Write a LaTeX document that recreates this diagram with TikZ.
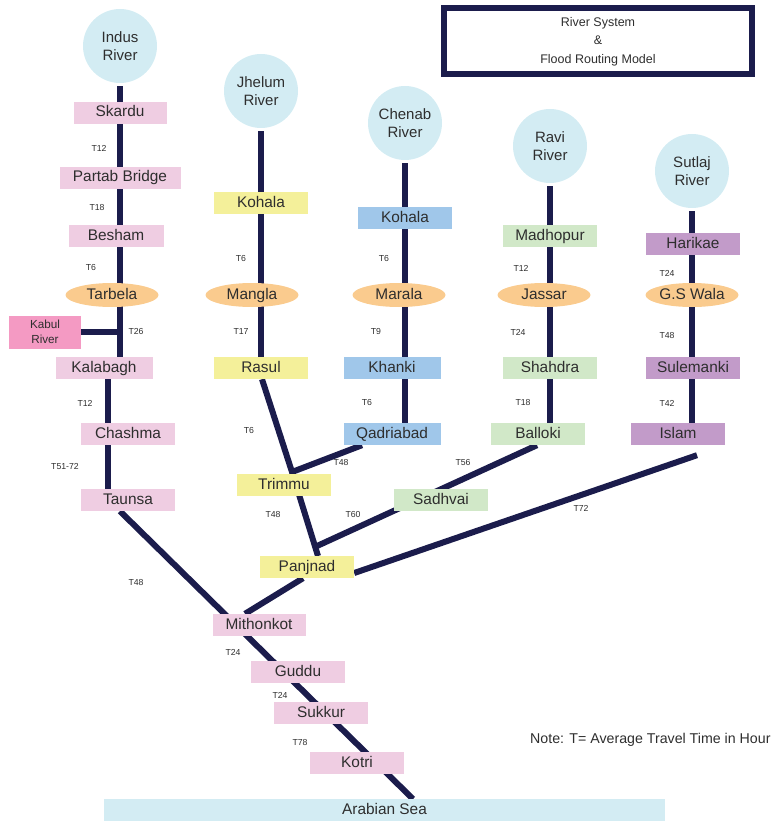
\documentclass[tikz,border=0pt]{standalone}
\usepackage{fontspec}
\setmainfont{Liberation Sans}
\usetikzlibrary{shapes.geometric,backgrounds}
\definecolor{rivercirc}{HTML}{D3ECF3}
\definecolor{indusbox}{HTML}{EFCDE2}
\definecolor{kabulbox}{HTML}{F49AC3}
\definecolor{damfill}{HTML}{FACB8E}
\definecolor{jhelumbox}{HTML}{F4F09A}
\definecolor{chenabbox}{HTML}{A0C7EA}
\definecolor{ravibox}{HTML}{D1E8C8}
\definecolor{sutlajbox}{HTML}{C29BC9}
\definecolor{riverline}{HTML}{1B1C4C}
\definecolor{labeltext}{HTML}{2E2E2E}

\begin{document}
\begin{tikzpicture}[x=1pt,y=-1pt,
  source/.style={circle,fill=rivercirc,minimum size=74pt,inner sep=0pt,align=center,text=labeltext,font=\fontsize{15}{18}\selectfont},
  station/.style={fill=#1,minimum width=94pt,minimum height=22pt,inner sep=0pt,text height=11pt,text depth=3pt,text=labeltext,font=\fontsize{15.4}{18}\selectfont},
  dam/.style={ellipse,fill=damfill,minimum width=93pt,minimum height=24pt,inner sep=0pt,text height=11pt,text depth=3pt,text=labeltext,font=\fontsize{15.4}{18}\selectfont},
  tlabel/.style={inner sep=0pt,text=labeltext,font=\fontsize{8.7}{10}\selectfont},
  river/.style={riverline,line width=6pt}]

\useasboundingbox (0,0) rectangle (771,821);

\node[draw=riverline,line width=6pt,minimum width=308pt,minimum height=66pt,align=center,text=labeltext,font=\fontsize{12.5}{18.5}\selectfont] (title) at (598,41.5) {River System\\\&\\Flood Routing Model};

\node[source] (indus) at (120,46) {Indus\\River};
\node[station=indusbox,minimum width=93pt] (skardu) at (120,113) {Skardu};
\node[station=indusbox,minimum width=121pt] (partab) at (120,178) {Partab Bridge};
\node[station=indusbox,minimum width=95pt] (besham) at (116,236) {Besham};
\node[dam] (tarbela) at (112,295) {Tarbela};
\node[fill=kabulbox,minimum width=72pt,minimum height=33pt,inner sep=0pt,align=center,text=labeltext,font=\fontsize{11.7}{15}\selectfont] (kabul) at (45,332) {Kabul\\River};
\node[station=indusbox,minimum width=97pt] (kalabagh) at (104,368) {Kalabagh};
\node[station=indusbox] (chashma) at (128,434) {Chashma};
\node[station=indusbox] (taunsa) at (128,500) {Taunsa};

\node[source] (jhelum) at (261,91) {Jhelum\\River};
\node[station=jhelumbox] (kohalaj) at (261,203) {Kohala};
\node[dam] (mangla) at (252,295) {Mangla};
\node[station=jhelumbox] (rasul) at (261,368) {Rasul};
\node[station=jhelumbox] (trimmu) at (284,485) {Trimmu};
\node[station=jhelumbox] (panjnad) at (307,567) {Panjnad};

\node[source] (chenab) at (405,123) {Chenab\\River};
\node[station=chenabbox] (kohalac) at (405,218) {Kohala};
\node[dam] (marala) at (399,295) {Marala};
\node[station=chenabbox,minimum width=97pt] (khanki) at (392,368) {Khanki};
\node[station=chenabbox,minimum width=97pt] (qadriabad) at (392,434) {Qadriabad};

\node[source] (ravi) at (550,146) {Ravi\\River};
\node[station=ravibox] (madhopur) at (550,236) {Madhopur};
\node[dam] (jassar) at (544,295) {Jassar};
\node[station=ravibox] (shahdra) at (550,368) {Shahdra};
\node[station=ravibox] (balloki) at (538,434) {Balloki};
\node[station=ravibox] (sadhvai) at (441,500) {Sadhvai};

\node[source] (sutlaj) at (692,171) {Sutlaj\\River};
\node[station=sutlajbox] (harikae) at (693,244) {Harikae};
\node[dam] (gswala) at (692,295) {G.S Wala};
\node[station=sutlajbox] (sulemanki) at (693,368) {Sulemanki};
\node[station=sutlajbox] (islam) at (678,434) {Islam};

\node[station=indusbox,minimum width=93pt] (mithonkot) at (259,625) {Mithonkot};
\node[station=indusbox] (guddu) at (298,672) {Guddu};
\node[station=indusbox] (sukkur) at (321,713) {Sukkur};
\node[station=indusbox] (kotri) at (357,763) {Kotri};
\node[station=rivercirc,minimum width=561pt] (sea) at (384.5,810) {Arabian Sea};

\node[anchor=west,inner sep=0pt,text=labeltext,font=\fontsize{14.2}{16}\selectfont] (note) at (530,740) {Note: T= Average Travel Time in Hour};

\coordinate (kabulj) at (indus |- kabul);
\coordinate (jtrimmu) at (292,472);
\coordinate (jpanjnad) at (318,556);
\coordinate (jsadhvai) at (317,546);
\coordinate (mouth) at (413,799);

\begin{scope}[on background layer]
\draw[river,shorten <=3pt] (indus) -- (indus |- kalabagh.north);
\draw[river] (kabul) -- (kabulj);
\draw[river] ([xshift=4pt]kalabagh.south) -- ([xshift=-20pt]taunsa.north);
\draw[river] ([xshift=-8pt]taunsa.south) -- (mouth);
\draw[river,shorten <=3pt] (jhelum) -- (rasul);
\draw[river] ([xshift=1pt]rasul.south) -- (jtrimmu) -- (jpanjnad);
\draw[river] ([xshift=-30pt]qadriabad.south) -- (jtrimmu);
\draw[river,shorten <=3pt] (chenab) -- (chenab |- qadriabad.north);
\draw[river,shorten <=3pt] (ravi) -- (ravi |- balloki.north);
\draw[river] ([xshift=-1pt]balloki.south) -- (jsadhvai);
\draw[river,shorten <=3pt] (sutlaj) -- (sutlaj |- islam.north);
\draw[river] ([xshift=19pt,yshift=-10pt]islam.south) -- ([yshift=-6pt]panjnad.east);
\draw[river] ([xshift=-4pt]panjnad.south) -- ([xshift=-14pt]mithonkot.north);
\end{scope}

\node[tlabel] (ti1) at (99,148) {T12};
\node[tlabel] (ti2) at (97,208) {T18};
\node[tlabel] (ti3) at (91,268) {T6};
\node[tlabel] (ti4) at (136,332) {T26};
\node[tlabel] (ti5) at (85,403) {T12};
\node[tlabel] (ti6) at (65,467) {T51-72};
\node[tlabel] (ti7) at (136,582) {T48};
\node[tlabel] (ti8) at (233,652) {T24};
\node[tlabel] (ti9) at (280,695) {T24};
\node[tlabel] (ti10) at (300,742) {T78};

\node[tlabel] (tj1) at (241,259) {T6};
\node[tlabel] (tj2) at (241,332) {T17};
\node[tlabel] (tj3) at (249,431) {T6};
\node[tlabel] (tj4) at (273,514) {T48};

\node[tlabel] (tc1) at (384,259) {T6};
\node[tlabel] (tc2) at (376,332) {T9};
\node[tlabel] (tc3) at (367,403) {T6};
\node[tlabel] (tc4) at (341,463) {T48};

\node[tlabel] (tr1) at (521,268) {T12};
\node[tlabel] (tr2) at (518,332) {T24};
\node[tlabel] (tr3) at (523,403) {T18};
\node[tlabel] (tr4) at (463,463) {T56};
\node[tlabel] (tr5) at (353,514) {T60};

\node[tlabel] (ts1) at (667,273) {T24};
\node[tlabel] (ts2) at (667,336) {T48};
\node[tlabel] (ts3) at (667,403) {T42};
\node[tlabel] (ts4) at (581,508) {T72};

\end{tikzpicture}
\end{document}
